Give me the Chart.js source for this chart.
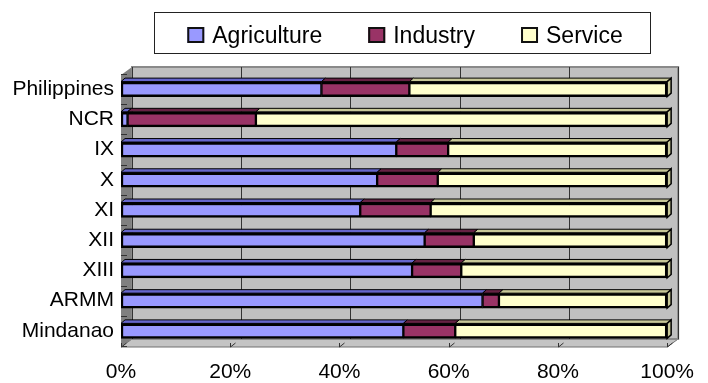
<!DOCTYPE html>
<html>
<head>
<meta charset="utf-8">
<script src="https://cdn.jsdelivr.net/npm/chart.js@4/dist/chart.umd.min.js"></script>
<style>
  html, body { margin: 0; padding: 0; background: #fff; }
  #c { display: block; }
</style>
</head>
<body>
<canvas id="c" width="708" height="383"></canvas>
<script>
// Employment share by sector (%)
const regions = ['Philippines', 'NCR', 'IX', 'X', 'XI', 'XII', 'XIII', 'ARMM', 'Mindanao'];
const agriculture = [36.7, 1.2, 50.4, 46.9, 43.8, 55.6, 53.3, 66.2, 51.7];
const industry    = [16.1, 23.5, 9.5, 11.1, 12.9, 9.0, 9.0, 3.0, 9.5];
const service     = [47.2, 75.3, 40.1, 42.0, 43.3, 35.4, 37.7, 30.8, 38.8];
const seriesNames = ['Agriculture', 'Industry', 'Service'];
const xTicks = [0, 20, 40, 60, 80, 100];

const FRONT = ['#9999FF', '#993366', '#FFFFCC'];
const TOPS  = ['#6666CC', '#662244', '#C8C898'];
const FONT = "'Liberation Sans', Arial, sans-serif";

// depth of the walls (right / up) and of the bars
const WALL_DX = 11, WALL_DY = 8;
const BAR_DX = 4, BAR_DY = 3.5;

const walls = {
  id: 'walls',
  beforeDatasetsDraw(chart) {
    const { ctx, chartArea: a, scales: { x } } = chart;
    const L = a.left, R = a.right, T = a.top + 1, B = a.bottom + 1;
    ctx.save();
    // back wall
    ctx.fillStyle = '#C0C0C0';
    ctx.fillRect(L + WALL_DX, T - WALL_DY, R - L, B - T);
    // floor
    ctx.beginPath();
    ctx.moveTo(L, B); ctx.lineTo(L + WALL_DX, B - WALL_DY);
    ctx.lineTo(R + WALL_DX, B - WALL_DY); ctx.lineTo(R, B); ctx.closePath();
    ctx.fillStyle = '#C4C4C4'; ctx.fill();
    ctx.strokeStyle = '#707070'; ctx.lineWidth = 1; ctx.stroke();
    // left wall
    ctx.beginPath();
    ctx.moveTo(L, T); ctx.lineTo(L + WALL_DX, T - WALL_DY);
    ctx.lineTo(L + WALL_DX, B - WALL_DY); ctx.lineTo(L, B); ctx.closePath();
    ctx.fillStyle = '#808080'; ctx.fill();
    // back wall outline
    ctx.strokeStyle = '#8A8A8A'; ctx.lineWidth = 2;
    ctx.strokeRect(L + WALL_DX, T - WALL_DY, R - L, B - T);
    // vertical gridlines on the back wall
    ctx.strokeStyle = '#333'; ctx.lineWidth = 1;
    xTicks.forEach(v => {
      const px = Math.round(x.getPixelForValue(v)) + WALL_DX + 0.5;
      ctx.beginPath();
      ctx.moveTo(px, T - WALL_DY); ctx.lineTo(px, B - WALL_DY);
      ctx.stroke();
      // tick marks on the floor edge
      const fx = Math.round(x.getPixelForValue(v)) + 0.5;
      ctx.beginPath();
      ctx.moveTo(fx, B - 4); ctx.lineTo(fx, B);
      ctx.lineTo(fx + 5, B - 4);
      ctx.stroke();
    });
    // category tick marks on the left wall
    const n = regions.length;
    const step = (a.bottom - a.top) / n;
    ctx.strokeStyle = '#333';
    for (let i = 0; i <= n; i++) {
      const y = Math.round(a.top + i * step) + 0.5;
      ctx.beginPath(); ctx.moveTo(L, y); ctx.lineTo(L + 6, y); ctx.stroke();
    }
    ctx.restore();
  },
  afterDatasetsDraw(chart) {
    const { ctx } = chart;
    const last = chart.data.datasets.length - 1;
    ctx.save();
    ctx.lineWidth = 1;
    ctx.strokeStyle = '#000';
    chart.data.datasets.forEach((ds, di) => {
      const meta = chart.getDatasetMeta(di);
      meta.data.forEach(bar => {
        const p = bar.getProps(['x', 'y', 'base', 'height'], true);
        const x0 = Math.min(p.base, p.x), x1 = Math.max(p.base, p.x);
        const top = p.y - p.height / 2, bot = p.y + p.height / 2;
        // top face
        ctx.beginPath();
        ctx.moveTo(x0, top); ctx.lineTo(x0 + BAR_DX, top - BAR_DY);
        ctx.lineTo(x1 + BAR_DX, top - BAR_DY); ctx.lineTo(x1, top); ctx.closePath();
        ctx.fillStyle = TOPS[di]; ctx.fill(); ctx.stroke();
        // end cap on the last segment
        if (di === last) {
          ctx.beginPath();
          ctx.moveTo(x1, top); ctx.lineTo(x1 + BAR_DX, top - BAR_DY);
          ctx.lineTo(x1 + BAR_DX, bot - BAR_DY); ctx.lineTo(x1, bot); ctx.closePath();
          ctx.fillStyle = TOPS[di]; ctx.fill();
          ctx.lineWidth = 1.5; ctx.stroke(); ctx.lineWidth = 1;
        }
      });
    });
    ctx.restore();
  }
};

// boxed legend above the plot
const boxedLegend = {
  id: 'boxedLegend',
  afterDraw(chart) {
    const { ctx } = chart;
    ctx.save();
    ctx.font = '23px ' + FONT;
    ctx.textBaseline = 'alphabetic';
    const box = 17, gapText = 8, gapItem = 46;
    const widths = seriesNames.map(s => ctx.measureText(s).width);
    const total = widths.reduce((s, w) => s + box + gapText + w, 0) + gapItem * (seriesNames.length - 1);
    let x = 405 - total / 2;
    ctx.strokeStyle = '#222'; ctx.lineWidth = 1;
    ctx.strokeRect(154.5, 12.5, 496, 41);
    seriesNames.forEach((name, i) => {
      ctx.fillStyle = FRONT[i];
      ctx.fillRect(x, 27, box, 16);
      ctx.lineWidth = 2; ctx.strokeStyle = '#111';
      ctx.strokeRect(x + 1, 28, box - 2, 14);
      ctx.fillStyle = '#000';
      ctx.fillText(name, x + box + gapText, 43);
      x += box + gapText + widths[i] + gapItem;
    });
    ctx.restore();
  }
};

const mk = (label, data, i, bw) => ({
  label, data,
  backgroundColor: FRONT[i],
  borderColor: '#000',
  borderWidth: bw,
  borderSkipped: false,
  barThickness: 15,
  stack: 's'
});

new Chart(document.getElementById('c'), {
  type: 'bar',
  data: {
    labels: regions,
    datasets: [
      mk(seriesNames[0], agriculture, 0, { top: 3, bottom: 2.5, left: 2.5, right: 1.5 }),
      mk(seriesNames[1], industry, 1, { top: 3, bottom: 2.5, left: 1.5, right: 1.5 }),
      mk(seriesNames[2], service, 2, { top: 3, bottom: 2.5, left: 1.5, right: 2.5 })
    ]
  },
  options: {
    indexAxis: 'y',
    responsive: false,
    animation: false,
    devicePixelRatio: 1,
    layout: { padding: { top: 74, right: 30, left: 0, bottom: 0 } },
    plugins: { legend: { display: false }, tooltip: { enabled: false } },
    scales: {
      x: {
        stacked: true, min: 0, max: 100,
        afterBuildTicks: s => { s.ticks = xTicks.map(v => ({ value: v })); },
        ticks: { callback: v => v + '%', color: '#000', font: { family: FONT, size: 21 }, padding: 14, maxRotation: 0 },
        grid: { display: false, drawTicks: false },
        border: { display: false },
        afterFit: s => { s.height = 37; }
      },
      y: {
        stacked: true,
        ticks: { color: '#000', font: { family: FONT, size: 21 }, padding: 7 },
        grid: { display: false, drawTicks: false },
        border: { display: false },
        afterFit: s => { s.width = 121; }
      }
    }
  },
  plugins: [walls, boxedLegend]
});
</script>
</body>
</html>
